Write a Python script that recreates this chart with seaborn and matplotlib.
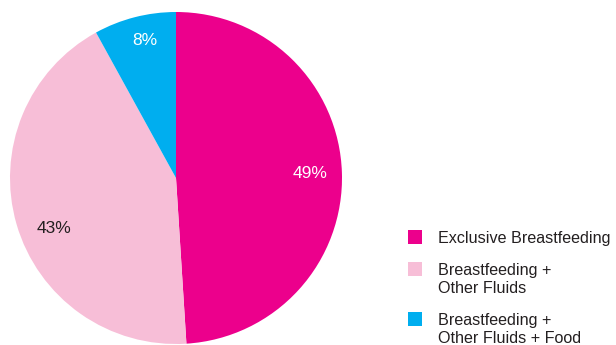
import matplotlib
matplotlib.use("Agg")
import matplotlib.pyplot as plt
import seaborn as sns
from matplotlib.patches import Rectangle

sns.set_theme(style="white")
plt.rcParams["font.family"] = ["Liberation Sans", "DejaVu Sans"]

categories = ["Exclusive Breastfeeding", "Breastfeeding +\nOther Fluids", "Breastfeeding +\nOther Fluids + Food"]
shares = [49, 43, 8]
colors = ["#EC008C", "#F7BED7", "#00AEEF"]
label_colors = ["white", "#231F20", "white"]

W, H = 616, 345
fig = plt.figure(figsize=(W / 100, H / 100), dpi=100)
ax = fig.add_axes([10 / W, 1 / H, 332 / W, 332 / H])

wedges, texts, autotexts = ax.pie(
    shares,
    colors=colors,
    startangle=90,
    counterclock=False,
    autopct=lambda p: f"{p:.0f}%",
    pctdistance=0.81,
    wedgeprops=dict(linewidth=0),
    textprops=dict(fontsize=12.5),
)
for t, c in zip(autotexts, label_colors):
    t.set_color(c)
# the pink slice's label sits a little lower along the rim
autotexts[1].set_position((-0.735, -0.307))
autotexts[2].set_position((-0.187, 0.83))
ax.set_aspect("equal")
ax.set_xlim(-1, 1)
ax.set_ylim(-1, 1)
ax.axis("off")

# legend drawn as swatches + text, swatch aligned with the first line
row_tops = [230, 262, 312]
for top, label, col in zip(row_tops, categories, colors):
    fig.patches.append(Rectangle((408 / W, 1 - (top + 14) / H), 14 / W, 14 / H,
                                 transform=fig.transFigure, facecolor=col, edgecolor="none"))
    fig.text(438 / W, 1 - (top + 0.5) / H, label, ha="left", va="top", fontsize=11.6,
             color="#231F20", linespacing=1.3)

fig.savefig("out.png", dpi=100)
